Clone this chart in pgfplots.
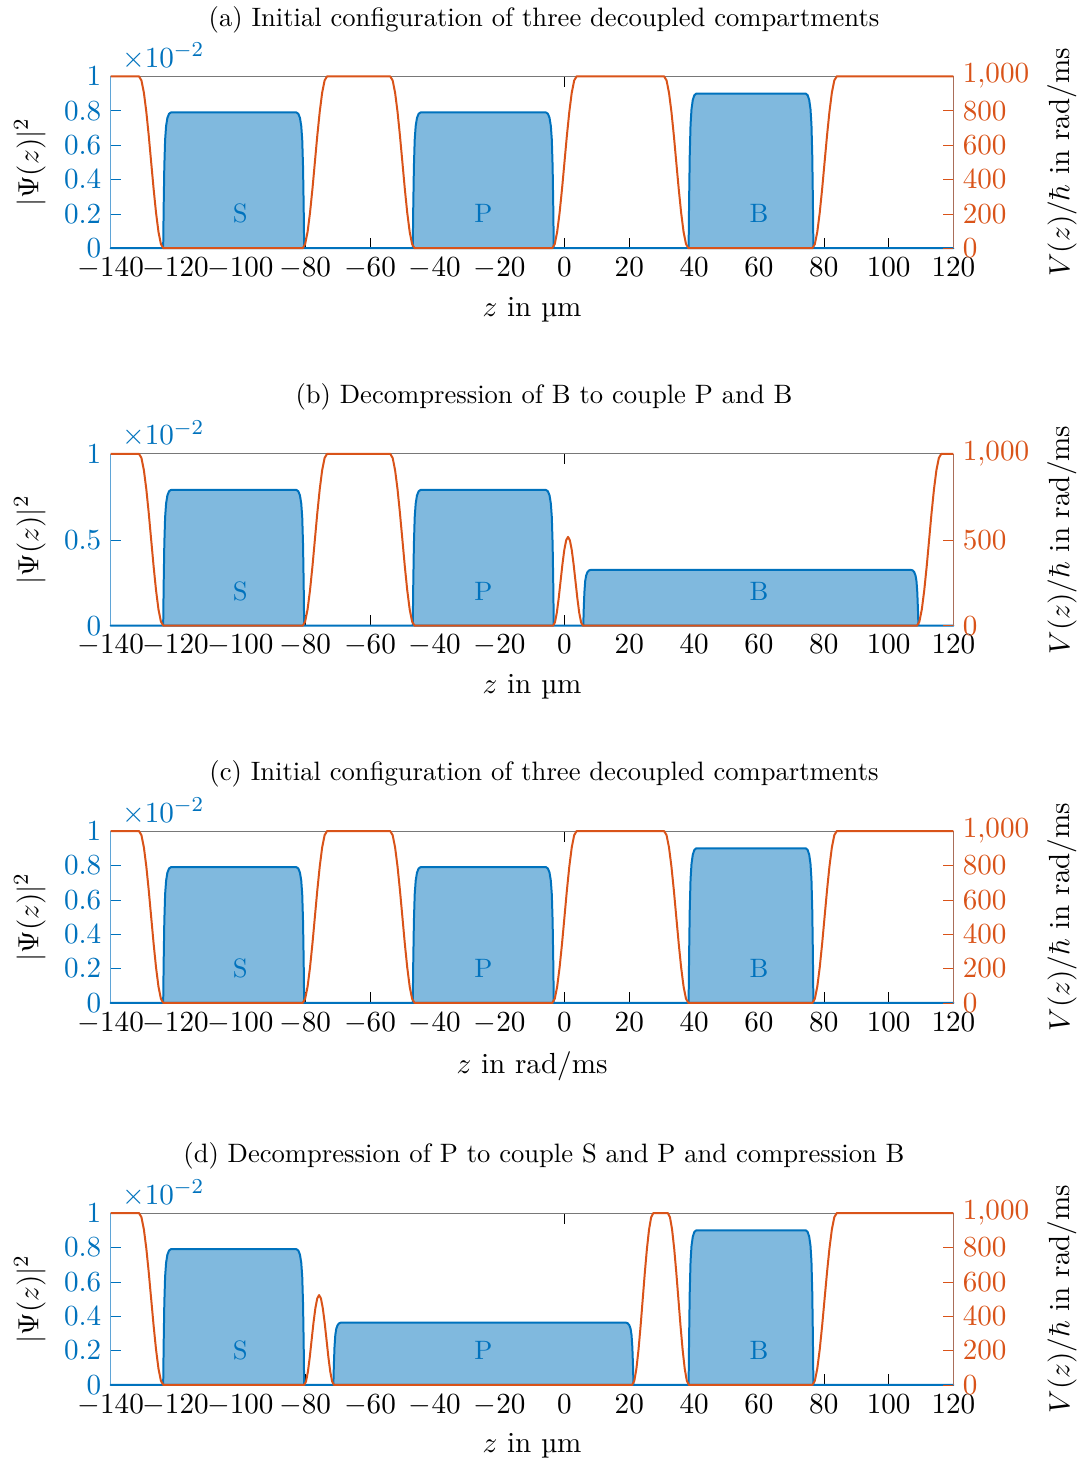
\documentclass[border=0pt]{standalone}
\usepackage{pgfplots}
\usepackage{pgfplotstable}
\pgfplotsset{compat=1.18}

\definecolor{mblue}{RGB}{0,114,189}
\definecolor{morange}{RGB}{217,83,25}
\definecolor{fillblue}{RGB}{128,185,222}
\definecolor{lspine}{RGB}{95,165,215}
\definecolor{rspine}{RGB}{170,110,90}
\definecolor{tspine}{RGB}{120,120,120}
\definecolor{bspine}{RGB}{40,45,55}

% |Psi(z)|^2 in units of 1e-2
\pgfplotstableread{
z psi
-140 0
-123.8 0
-123.65 0.237
-123.45 0.474
-123.2 0.632
-122.9 0.711
-122.5 0.758
-122.0 0.782
-121.4 0.79
-82.7 0.79
-82.1 0.782
-81.6 0.758
-81.2 0.711
-80.9 0.632
-80.65 0.474
-80.45 0.237
-80.3 0
-46.8 0
-46.65 0.237
-46.45 0.474
-46.2 0.632
-45.9 0.711
-45.5 0.758
-45.0 0.782
-44.4 0.79
-5.7 0.79
-5.1 0.782
-4.6 0.758
-4.2 0.711
-3.9 0.632
-3.65 0.474
-3.45 0.237
-3.3 0
38.3 0
38.45 0.27
38.65 0.54
38.9 0.72
39.2 0.81
39.6 0.864
40.1 0.891
40.7 0.9
74.4 0.9
75.0 0.891
75.5 0.864
75.9 0.81
76.2 0.72
76.45 0.54
76.65 0.27
76.8 0
120 0
}\waveA

\pgfplotstableread{
z psi
-140 0
-123.8 0
-123.65 0.237
-123.45 0.474
-123.2 0.632
-122.9 0.711
-122.5 0.758
-122.0 0.782
-121.4 0.79
-82.7 0.79
-82.1 0.782
-81.6 0.758
-81.2 0.711
-80.9 0.632
-80.65 0.474
-80.45 0.237
-80.3 0
-46.8 0
-46.65 0.237
-46.45 0.474
-46.2 0.632
-45.9 0.711
-45.5 0.758
-45.0 0.782
-44.4 0.79
-5.7 0.79
-5.1 0.782
-4.6 0.758
-4.2 0.711
-3.9 0.632
-3.65 0.474
-3.45 0.237
-3.3 0
5.8 0
5.95 0.0975
6.15 0.195
6.4 0.26
6.7 0.2925
7.1 0.312
7.6 0.322
8.2 0.325
106.8 0.325
107.4 0.322
107.9 0.312
108.3 0.2925
108.6 0.26
108.85 0.195
109.05 0.0975
109.2 0
120 0
}\waveB

\pgfplotstableread{
z psi
-140 0
-123.8 0
-123.65 0.237
-123.45 0.474
-123.2 0.632
-122.9 0.711
-122.5 0.758
-122.0 0.782
-121.4 0.79
-82.7 0.79
-82.1 0.782
-81.6 0.758
-81.2 0.711
-80.9 0.632
-80.65 0.474
-80.45 0.237
-80.3 0
-71.3 0
-71.15 0.109
-70.95 0.218
-70.7 0.29
-70.4 0.327
-70.0 0.348
-69.5 0.359
-68.9 0.363
18.9 0.363
19.5 0.359
20.0 0.348
20.4 0.327
20.7 0.29
20.95 0.218
21.15 0.109
21.3 0
38.3 0
38.45 0.27
38.65 0.54
38.9 0.72
39.2 0.81
39.6 0.864
40.1 0.891
40.7 0.9
74.4 0.9
75.0 0.891
75.5 0.864
75.9 0.81
76.2 0.72
76.45 0.54
76.65 0.27
76.8 0
120 0
}\waveD

% trap potential V(z)/hbar in rad/ms
\pgfplotstableread{
z V
-140 1000
-131.25 1000
-130.5 976
-129.75 905
-129 794
-128.25 655
-127.5 500
-126.75 345
-126 206
-125.25 95
-124.5 24
-123.75 0
-80.75 0
-80 24
-79.25 95
-78.5 206
-77.75 345
-77 500
-76.25 655
-75.5 794
-74.75 905
-74 976
-73.25 1000
-53.75 1000
-53 976
-52.25 905
-51.5 794
-50.75 655
-50 500
-49.25 345
-48.5 206
-47.75 95
-47 24
-46.25 0
-3.75 0
-3 24
-2.25 95
-1.5 206
-0.75 345
0 500
0.75 655
1.5 794
2.25 905
3 976
3.75 1000
30.75 1000
31.5 976
32.25 905
33 794
33.75 655
34.5 500
35.25 345
36 206
36.75 95
37.5 24
38.25 0
76.5 0
77.25 24
78 95
78.75 206
79.5 345
80.25 500
81 655
81.75 794
82.5 905
83.25 976
84 1000
120 1000
}\potA

\pgfplotstableread{
z V
-140 1000
-131.25 1000
-130.5 976
-129.75 905
-129 794
-128.25 655
-127.5 500
-126.75 345
-126 206
-125.25 95
-124.5 24
-123.75 0
-80.75 0
-80 24
-79.25 95
-78.5 206
-77.75 345
-77 500
-76.25 655
-75.5 794
-74.75 905
-74 976
-73.25 1000
-53.75 1000
-53 976
-52.25 905
-51.5 794
-50.75 655
-50 500
-49.25 345
-48.5 206
-47.75 95
-47 24
-46.25 0
-3.5 0
-2.925 20
-2.35 76
-1.775 160
-1.2 259
-0.625 357
-0.05 441
0.525 497
1.1 517
1.675 497
2.25 441
2.825 357
3.4 259
3.975 160
4.55 76
5.125 20
5.7 0
108.75 0
109.5 24
110.25 95
111 206
111.75 345
112.5 500
113.25 655
114 794
114.75 905
115.5 976
116.25 1000
120 1000
}\potB

\pgfplotstableread{
z V
-140 1000
-131.25 1000
-130.5 976
-129.75 905
-129 794
-128.25 655
-127.5 500
-126.75 345
-126 206
-125.25 95
-124.5 24
-123.75 0
-80.3 0
-79.725 20
-79.15 77
-78.575 161
-78 262
-77.425 362
-76.85 446
-76.275 503
-75.7 523
-75.125 503
-74.55 446
-73.975 362
-73.4 262
-72.825 161
-72.25 77
-71.675 20
-71.1 0
20.9 0
21.55 24
22.2 95
22.85 206
23.5 345
24.15 500
24.8 655
25.45 794
26.1 905
26.75 976
27.4 1000
31.9 1000
32.55 976
33.2 905
33.85 794
34.5 655
35.15 500
35.8 345
36.45 206
37.1 95
37.75 24
38.4 0
76.5 0
77.25 24
78 95
78.75 206
79.5 345
80.25 500
81 655
81.75 794
82.5 905
83.25 976
84 1000
120 1000
}\potD

\newcommand\lblfont{\fontsize{10.95}{13.6}\selectfont}

\pgfplotsset{
  base/.style={scale only axis, width=316.8pt, height=64.6pt,
    xmin=-140, xmax=120, clip=false, tick align=inside,
    axis line style={-}, major tick length=4pt,
    tick label style={font=\lblfont}, label style={font=\lblfont}},
  psiaxis/.style={base, ymin=0, ymax=1,
    axis x line*=bottom, axis y line*=left,
    xtick={-140,-120,-100,-80,-60,-40,-20,0,20,40,60,80,100,120},
    x axis line style={bspine}, y axis line style={lspine},
    xtick style={black}, ytick style={mblue},
    yticklabel style={text=mblue},
    ylabel={$|\Psi(z)|^2$}},
  potaxis/.style={base, ymin=0, ymax=1000,
    axis x line*=top, axis y line*=right,
    xtick={0}, xticklabels={},
    x axis line style={tspine}, y axis line style={rspine},
    xtick style={black}, ytick style={morange},
    yticklabel style={text=morange},
    ylabel={$V(z)/\hbar$ in rad/ms}},
  wave/.style={mblue, line width=0.75pt, fill=fillblue, line join=round},
  pot/.style={morange, line width=0.75pt, line join=round},
}
\tikzset{scalelabel/.style={text=mblue, anchor=base west, xshift=0.8pt,
  yshift=3.4pt, font=\lblfont}}

\begin{document}
\begin{tikzpicture}
\useasboundingbox (-41.6pt,-455.9pt) rectangle (365.5pt,93.3pt);

% (a)
\begin{axis}[psiaxis, at={(0pt,0pt)}, ytick={0,0.2,0.4,0.6,0.8,1},
  xlabel={$z$ in \textmu m}]
  \addplot[wave] table {\waveA} \closedcycle;
  \node[text=mblue] at (axis cs:-100,0.2) {S};
  \node[text=mblue] at (axis cs:-25,0.2) {P};
  \node[text=mblue] at (axis cs:60,0.2) {B};
  \node[scalelabel] at (rel axis cs:0,1) {$\times10^{-2}$};
\end{axis}
\begin{axis}[potaxis, at={(0pt,0pt)}, ytick={0,200,400,600,800,1000}]
  \addplot[pot] table {\potA};
\end{axis}
\node at (162.9pt,85.8pt) {(a) Initial configuration of three decoupled compartments};

% (b)
\begin{axis}[psiaxis, at={(0pt,-141.9pt)}, ytick={0,0.5,1},
  xlabel={$z$ in \textmu m}]
  \addplot[wave] table {\waveB} \closedcycle;
  \node[text=mblue] at (axis cs:-100,0.2) {S};
  \node[text=mblue] at (axis cs:-25,0.2) {P};
  \node[text=mblue] at (axis cs:60,0.2) {B};
  \node[scalelabel] at (rel axis cs:0,1) {$\times10^{-2}$};
\end{axis}
\begin{axis}[potaxis, at={(0pt,-141.9pt)}, ytick={0,500,1000}]
  \addplot[pot] table {\potB};
\end{axis}
\node at (162.9pt,-55.9pt) {(b) Decompression of B to couple P and B};

% (c)
\begin{axis}[psiaxis, at={(0pt,-283.7pt)}, ytick={0,0.2,0.4,0.6,0.8,1},
  xlabel={$z$ in rad/ms}]
  \addplot[wave] table {\waveA} \closedcycle;
  \node[text=mblue] at (axis cs:-100,0.2) {S};
  \node[text=mblue] at (axis cs:-25,0.2) {P};
  \node[text=mblue] at (axis cs:60,0.2) {B};
  \node[scalelabel] at (rel axis cs:0,1) {$\times10^{-2}$};
\end{axis}
\begin{axis}[potaxis, at={(0pt,-283.7pt)}, ytick={0,200,400,600,800,1000}]
  \addplot[pot] table {\potA};
\end{axis}
\node at (162.9pt,-197.6pt) {(c) Initial configuration of three decoupled compartments};

% (d)
\begin{axis}[psiaxis, at={(0pt,-427.3pt)}, ytick={0,0.2,0.4,0.6,0.8,1},
  xlabel={$z$ in \textmu m}]
  \addplot[wave] table {\waveD} \closedcycle;
  \node[text=mblue] at (axis cs:-100,0.2) {S};
  \node[text=mblue] at (axis cs:-25,0.2) {P};
  \node[text=mblue] at (axis cs:60,0.2) {B};
  \node[scalelabel] at (rel axis cs:0,1) {$\times10^{-2}$};
\end{axis}
\begin{axis}[potaxis, at={(0pt,-427.3pt)}, ytick={0,200,400,600,800,1000}]
  \addplot[pot] table {\potD};
\end{axis}
\node at (162.9pt,-341.3pt) {(d) Decompression of P to couple S and P and compression B};

\end{tikzpicture}
\end{document}
